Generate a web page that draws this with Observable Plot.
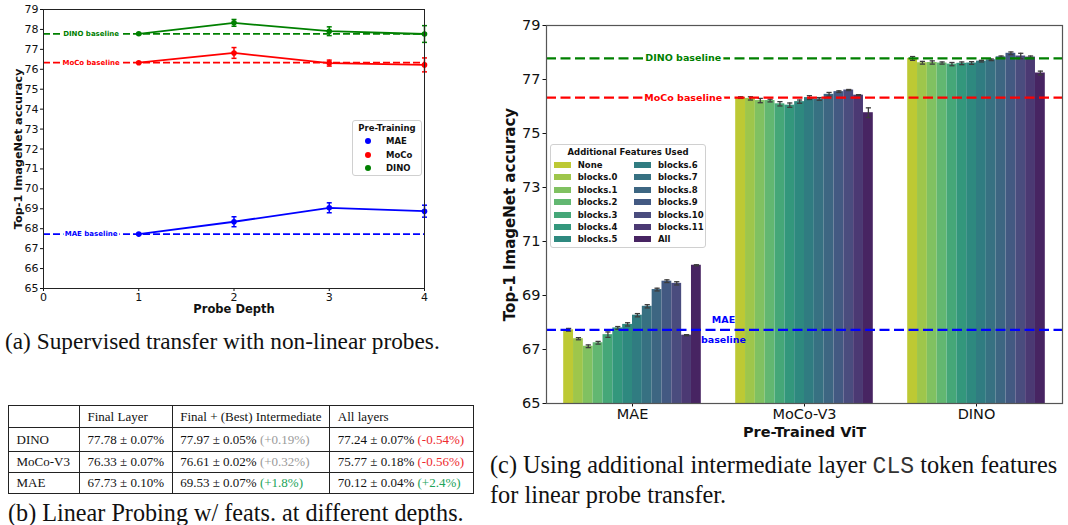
<!DOCTYPE html>
<html>
<head>
<meta charset="utf-8">
<script src="https://cdn.jsdelivr.net/npm/d3@7"></script>
<script src="https://cdn.jsdelivr.net/npm/@observablehq/plot@0.6"></script>
<style>
html,body{margin:0;padding:0;background:#fff;}
#root{position:relative;width:1068px;height:525px;overflow:hidden;font-family:"DejaVu Sans",sans-serif;color:#111;}
.abs{position:absolute;}
.cap{font-family:"Liberation Serif","Times New Roman",serif;white-space:nowrap;color:#111;}
.mono{font-family:"Liberation Mono","DejaVu Sans Mono",monospace;font-size:0.95em;color:#333;}
table.tb{border-collapse:collapse;font-family:"Liberation Serif","Times New Roman",serif;font-size:13px;color:#111;table-layout:fixed;}
table.tb td{border:1px solid #222;padding:0 0 0 7.5px;white-space:nowrap;}
.leg{background:#fff;border:1px solid #d0d0d0;border-radius:3px;font-weight:bold;box-sizing:border-box;}
.leg div{white-space:nowrap;}
</style>
</head>
<body>
<div id="root">
  <div id="chartA" class="abs" style="left:0;top:0"></div>
  <div id="legA" class="abs leg" style="left:352px;top:120px;width:70px;height:56px"></div>
  <div id="capA" class="abs cap" style="left:5px;top:327px;font-size:23.3px;line-height:28px">(a) Supervised transfer with non-linear probes.</div>
  <div id="tableB" class="abs" style="left:8px;top:405px"></div>
  <div id="capB" class="abs cap" style="left:8px;top:499px;font-size:24.2px;line-height:28px">(b) Linear Probing w/ feats. at different depths.</div>
  <div id="chartC" class="abs" style="left:490px;top:0"></div>
  <div id="chartC2" class="abs" style="left:490px;top:0"></div>
  <div id="legC" class="abs leg" style="left:550px;top:144px;width:156px;height:104px"></div>
  <div id="capC" class="abs cap" style="left:490px;top:451px;font-size:24.3px;line-height:28px">(c) Using additional intermediate layer <span class="mono">CLS</span> token features<br>for linear probe transfer.</div>
</div>
<script>
// ---------- data: (a) probe depth ----------
const pretrain = ["MAE", "MoCo", "DINO"];
const pretrainColors = ["#0000ff", "#ff0000", "#008000"];
const baselineAcc = [67.73, 76.33, 77.78];
const depths = [1, 2, 3, 4];
const depthTicks = [0, 1, 2, 3, 4];
const accTicksA = [65, 66, 67, 68, 69, 70, 71, 72, 73, 74, 75, 76, 77, 78, 79];
const maeDepthAcc = [67.73, 68.35, 69.05, 68.88];
const maeDepthErr = [0.03, 0.25, 0.25, 0.30];
const mocoDepthAcc = [76.33, 76.82, 76.31, 76.22];
const mocoDepthErr = [0.03, 0.27, 0.15, 0.35];
const dinoDepthAcc = [77.78, 78.33, 77.91, 77.77];
const dinoDepthErr = [0.03, 0.17, 0.22, 0.42];

// ---------- data: (b) table ----------
const tableHeader = ["", "Final Layer", "Final + (Best) Intermediate", "All layers"];
const tableModels = ["DINO", "MoCo-V3", "MAE"];
const finalLayer = ["77.78 ± 0.07%", "76.33 ± 0.07%", "67.73 ± 0.10%"];
const bestInter = ["77.97 ± 0.05%", "76.61 ± 0.02%", "69.53 ± 0.07%"];
const bestDelta = ["(+0.19%)", "(+0.32%)", "(+1.8%)"];
const allLayers = ["77.24 ± 0.07%", "75.77 ± 0.18%", "70.12 ± 0.04%"];
const allDelta = ["(-0.54%)", "(-0.56%)", "(+2.4%)"];

// ---------- data: (c) additional features ----------
const models = ["MAE", "MoCo-V3", "DINO"];
const features = ["None", "blocks.0", "blocks.1", "blocks.2", "blocks.3", "blocks.4", "blocks.5",
  "blocks.6", "blocks.7", "blocks.8", "blocks.9", "blocks.10", "blocks.11", "All"];
const accTicksC = [65, 67, 69, 71, 73, 75, 77, 79];
const maeFeatAcc = [67.73, 67.40, 67.12, 67.25, 67.55, 67.80, 67.93, 68.27, 68.60, 69.22, 69.53, 69.45, 67.53, 70.12];
const maeFeatErr = [0.05, 0.04, 0.05, 0.05, 0.10, 0.05, 0.06, 0.06, 0.06, 0.05, 0.05, 0.06, 0.02, 0.02];
const mocoFeatAcc = [76.33, 76.30, 76.22, 76.22, 76.10, 76.05, 76.18, 76.33, 76.28, 76.45, 76.55, 76.61, 76.42, 75.77];
const mocoFeatErr = [0.03, 0.06, 0.08, 0.05, 0.08, 0.08, 0.06, 0.07, 0.05, 0.07, 0.03, 0.02, 0.02, 0.18];
const dinoFeatAcc = [77.78, 77.62, 77.63, 77.61, 77.57, 77.60, 77.61, 77.68, 77.73, 77.84, 77.97, 77.87, 77.83, 77.24];
const dinoFeatErr = [0.07, 0.05, 0.06, 0.04, 0.06, 0.05, 0.05, 0.03, 0.03, 0.03, 0.05, 0.10, 0.04, 0.07];

// ---------- derived tables ----------
const depthAcc = [maeDepthAcc, mocoDepthAcc, dinoDepthAcc];
const depthErr = [maeDepthErr, mocoDepthErr, dinoDepthErr];
const depthRows = pretrain.flatMap((name, k) => depths.map((depth, i) => ({name, depth, acc: depthAcc[k][i], err: depthErr[k][i]})));
const baselineRows = pretrain.map((name, k) => ({name, acc: baselineAcc[k]}));
const featAcc = [maeFeatAcc, mocoFeatAcc, dinoFeatAcc];
const featErr = [maeFeatErr, mocoFeatErr, dinoFeatErr];
const featRows = models.flatMap((model, k) => features.map((feature, i) => ({model, feature, acc: featAcc[k][i], err: featErr[k][i]})));

// seaborn viridis_r palette, desaturated 0.75
const featureColors = features.map((f, i) => {
  const c = d3.hsl(d3.interpolateViridis(1 - (i + 1) / (features.length + 1)));
  c.s *= 0.75;
  return c.formatHex();
});

const capSymbol = {draw(context, size) { const r = Math.sqrt(size / Math.PI); context.moveTo(-r, 0); context.lineTo(r, 0); }};
const font = "DejaVu Sans, sans-serif";

// ---------- (a) ----------
const plotA = Plot.plot({
  width: 440, height: 320, marginLeft: 43, marginRight: 16, marginTop: 9, marginBottom: 32,
  style: {fontFamily: font, fontSize: "11px", color: "#111", background: "transparent", overflow: "visible"},
  x: {domain: [0, 4], ticks: depthTicks, tickFormat: d => String(d), tickSize: 3, tickPadding: 1.5, label: null},
  y: {domain: [65, 79], ticks: accTicksA, tickFormat: d => String(d), tickSize: 3, tickPadding: 2, label: null},
  color: {domain: pretrain, range: pretrainColors},
  marks: [
    Plot.ruleY(baselineRows, {y: "acc", stroke: "name", strokeWidth: 1.8, strokeDasharray: "7,3"}),
    Plot.text(baselineRows, {x: 0.5, y: "acc", text: d => d.name + " baseline", fill: "name", stroke: "white", strokeWidth: 4, paintOrder: "stroke", fontSize: 7, fontWeight: "bold"}),
    Plot.line(depthRows, {x: "depth", y: "acc", z: "name", stroke: "name", strokeWidth: 1.8}),
    Plot.ruleX(depthRows, {x: "depth", y1: d => d.acc - d.err, y2: d => d.acc + d.err, stroke: "name", strokeWidth: 1.5}),
    Plot.dot(depthRows, {x: "depth", y: d => d.acc - d.err, symbol: capSymbol, r: 2.5, stroke: "name", fill: "none", strokeWidth: 1.5}),
    Plot.dot(depthRows, {x: "depth", y: d => d.acc + d.err, symbol: capSymbol, r: 2.5, stroke: "name", fill: "none", strokeWidth: 1.5}),
    Plot.dot(depthRows, {x: "depth", y: "acc", fill: "name", r: 2.8}),
    Plot.frame({stroke: "#222", strokeWidth: 1}),
    Plot.text(["Probe Depth"], {text: d => d, frameAnchor: "bottom", textAnchor: "middle", lineAnchor: "middle", dy: 21, fontSize: 11.5, fontWeight: "bold"}),
    Plot.text(["Top-1 ImageNet accuracy"], {text: d => d, frameAnchor: "left", textAnchor: "middle", lineAnchor: "middle", dx: -25, rotate: -90, fontSize: 11.3, fontWeight: "bold"})
  ]
});
document.getElementById("chartA").append(plotA);

// legend (a)
document.getElementById("legA").innerHTML =
  `<div class="abs" style="left:0;width:100%;top:2px;text-align:center;font-size:8.5px;line-height:10px">Pre-Training</div>` +
  pretrain.map((name, k) =>
    `<div class="abs" style="left:12px;top:${17 + k * 13.5}px;width:6px;height:6px;border-radius:50%;background:${pretrainColors[k]}"></div>` +
    `<div class="abs" style="left:33px;top:${15 + k * 13.5}px;font-size:8.5px;line-height:10px">${name}</div>`).join("");

// ---------- (b) table ----------
function deltaColor(s) {
  if (s.startsWith("(-")) return "#ee2a2e";
  return parseFloat(s.slice(1)) >= 1 ? "#22a35a" : "#9a9a9a";
}
const colW = [71, 92.7, 157.6, 143.4];
const rowH = [22, 24, 21, 21.3];
let html = `<table class="tb"><colgroup>${colW.map(w => `<col style="width:${w}px">`).join("")}</colgroup>`;
html += `<tr style="height:${rowH[0]}px">${tableHeader.map(h => `<td>${h}</td>`).join("")}</tr>`;
tableModels.forEach((m, i) => {
  html += `<tr style="height:${rowH[i + 1]}px"><td>${m}</td><td>${finalLayer[i]}</td>` +
    `<td>${bestInter[i]} <span style="color:${deltaColor(bestDelta[i])}">${bestDelta[i]}</span></td>` +
    `<td>${allLayers[i]} <span style="color:${deltaColor(allDelta[i])}">${allDelta[i]}</span></td></tr>`;
});
html += `</table>`;
document.getElementById("tableB").innerHTML = html;

// ---------- (c) bars (faceted) ----------
const plotC = Plot.plot({
  width: 578, height: 445, marginLeft: 56, marginRight: 6, marginTop: 25, marginBottom: 42,
  style: {fontFamily: font, fontSize: "14.5px", color: "#111", background: "transparent", overflow: "visible"},
  facet: {data: featRows, x: "model"},
  fx: {domain: models, paddingInner: 0.2, paddingOuter: 0.1, round: false, label: null, axis: "bottom", tickSize: 3.5, tickPadding: 2},
  x: {domain: features, padding: 0, round: false, axis: null},
  y: {domain: [65, 79], axis: null},
  color: {domain: features, range: featureColors},
  marks: [
    Plot.barY(featRows, {x: "feature", y1: 65, y2: "acc", fill: "feature"}),
    Plot.ruleX(featRows, {x: "feature", y1: d => d.acc - d.err, y2: d => d.acc + d.err, stroke: "#3c3c3c", strokeWidth: 1.3}),
    Plot.dot(featRows, {x: "feature", y: d => d.acc - d.err, symbol: capSymbol, r: 2.6, stroke: "#3c3c3c", fill: "none", strokeWidth: 1.3}),
    Plot.dot(featRows, {x: "feature", y: d => d.acc + d.err, symbol: capSymbol, r: 2.6, stroke: "#3c3c3c", fill: "none", strokeWidth: 1.3})
  ]
});
document.getElementById("chartC").append(plotC);

// ---------- (c) overlay: axes, frame, baselines ----------
const plotC2 = Plot.plot({
  width: 578, height: 445, marginLeft: 56, marginRight: 6, marginTop: 25, marginBottom: 42,
  style: {fontFamily: font, fontSize: "14.5px", color: "#111", background: "transparent", overflow: "visible"},
  x: {domain: [0, 1], axis: null},
  y: {domain: [65, 79], ticks: accTicksC, tickFormat: d => String(d), tickSize: 3.5, tickPadding: 2.5, label: null},
  color: {domain: pretrain, range: pretrainColors},
  marks: [
    Plot.ruleY(baselineRows, {y: "acc", stroke: "name", strokeWidth: 2.3, strokeDasharray: "10,4.5"}),
    Plot.text(baselineRows.filter(d => d.name !== "MAE"), {x: 0.265, y: "acc", text: d => d.name + " baseline", fill: "name", stroke: "white", strokeWidth: 5, paintOrder: "stroke", fontSize: 9.5, fontWeight: "bold"}),
    Plot.text(baselineRows.filter(d => d.name === "MAE"), {x: 0.343, y: "acc", dy: -3, text: d => d.name + "\nbaseline", fill: "name", lineHeight: 2.1, fontSize: 9.5, fontWeight: "bold"}),
    Plot.frame({stroke: "#555", strokeWidth: 1.2}),
    Plot.text(["Top-1 ImageNet accuracy"], {text: d => d, frameAnchor: "left", textAnchor: "middle", lineAnchor: "middle", dx: -36, rotate: -90, fontSize: 15, fontWeight: "bold"}),
    Plot.text(["Pre-Trained ViT"], {text: d => d, frameAnchor: "bottom", textAnchor: "middle", lineAnchor: "middle", dy: 29, fontSize: 14.5, fontWeight: "bold"})
  ]
});
document.getElementById("chartC2").append(plotC2);

// legend (c)
const half = Math.ceil(features.length / 2);
document.getElementById("legC").innerHTML =
  `<div class="abs" style="left:0;width:100%;top:2px;text-align:center;font-size:8.5px;line-height:10px">Additional Features Used</div>` +
  features.map((f, i) => {
    const col = i < half ? 0 : 1, row = i % half;
    const cy = 19.7 + row * 12.45;
    return `<div class="abs" style="left:${col ? 83 : 3}px;top:${cy - 3}px;width:17px;height:6px;background:${featureColors[i]}"></div>` +
      `<div class="abs" style="left:${col ? 107 : 26.7}px;top:${cy - 5}px;font-size:8.5px;line-height:10px">${f}</div>`;
  }).join("");
</script>
</body>
</html>
